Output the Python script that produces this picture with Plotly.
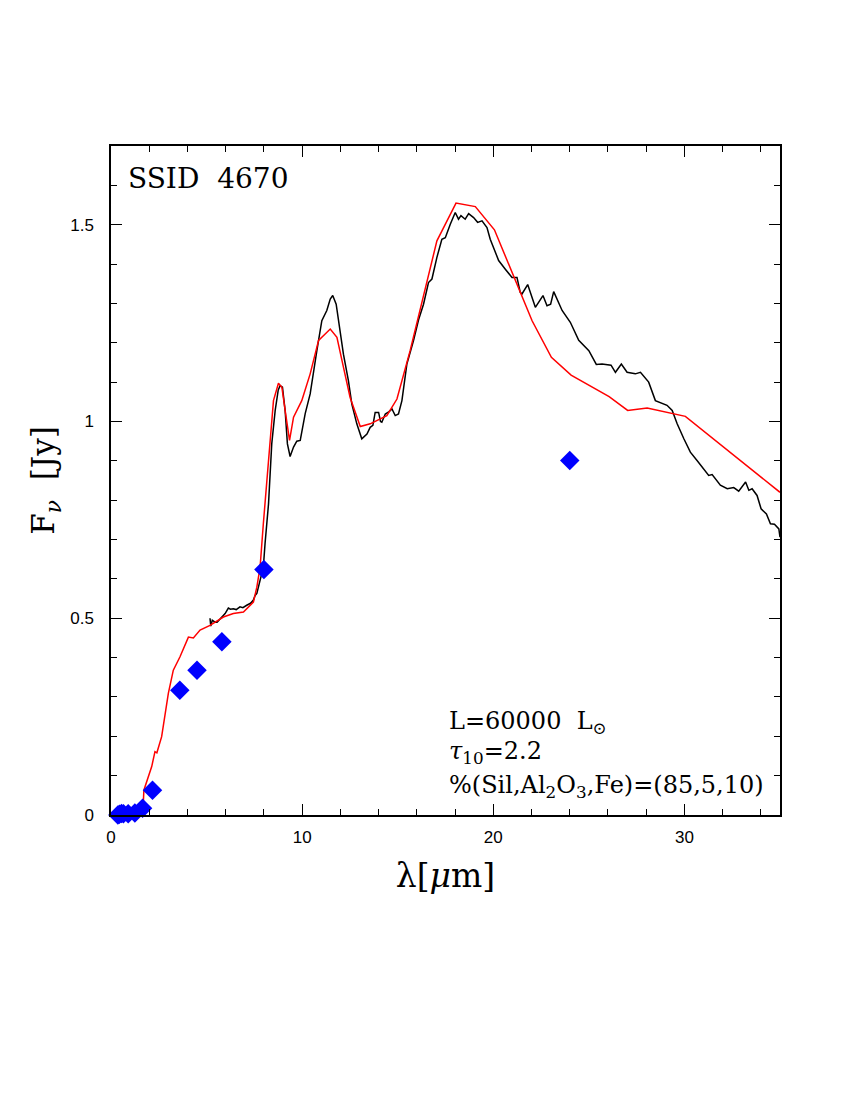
import plotly.graph_objects as go

# Observed spectrum (black)
obs_wl = [5.18, 5.22, 5.30, 5.44, 5.55, 5.71, 5.85, 5.97, 6.14, 6.25, 6.40, 6.55, 6.75, 6.90,
          7.10, 7.30, 7.45, 7.54, 7.63, 7.80, 7.97, 8.06, 8.24, 8.41, 8.59, 8.75, 8.85, 8.97,
          9.11, 9.23, 9.37, 9.55, 9.72, 9.90, 10.16, 10.42, 10.60, 10.77, 11.03, 11.29, 11.47,
          11.60, 11.78, 11.95, 12.16, 12.42, 12.60, 12.86, 13.12, 13.39, 13.56, 13.70, 13.82,
          14.00, 14.10, 14.17, 14.35, 14.55, 14.70, 14.87, 15.04, 15.22, 15.48, 15.83, 16.10,
          16.35, 16.61, 16.79, 17.05, 17.31, 17.49, 17.75, 18.01, 18.18, 18.31, 18.53, 18.71,
          18.97, 19.18, 19.41, 19.67, 19.84, 20.02, 20.28, 20.63, 20.98, 21.24, 21.41, 21.50,
          21.80, 22.20, 22.60, 22.81, 23.00, 23.16, 23.60, 24.03, 24.47, 25.00, 25.39, 25.69,
          26.16, 26.39, 26.70, 27.00, 27.43, 27.70, 28.13, 28.48, 28.66, 29.09, 29.36, 29.62,
          29.97, 30.31, 30.66, 31.01, 31.27, 31.45, 31.88, 32.24, 32.58, 32.84, 33.20, 33.37,
          33.54, 33.80, 34.01, 34.29, 34.50, 34.71, 34.94, 35.00]
obs_flux = [0.500, 0.480, 0.495, 0.490, 0.490, 0.499, 0.505, 0.512, 0.526, 0.523, 0.524, 0.522,
            0.529, 0.527, 0.533, 0.538, 0.546, 0.558, 0.563, 0.596, 0.630, 0.690, 0.790, 0.943,
            1.028, 1.080, 1.091, 1.087, 1.028, 0.943, 0.911, 0.935, 0.950, 0.952, 1.020, 1.070,
            1.130, 1.180, 1.256, 1.282, 1.311, 1.320, 1.298, 1.239, 1.171, 1.104, 1.044, 0.994,
            0.956, 0.968, 0.985, 0.990, 1.023, 1.023, 1.000, 0.998, 1.019, 1.025, 1.032, 1.015,
            1.019, 1.053, 1.146, 1.206, 1.260, 1.298, 1.353, 1.362, 1.417, 1.463, 1.467, 1.501,
            1.531, 1.514, 1.523, 1.514, 1.528, 1.518, 1.506, 1.510, 1.493, 1.463, 1.442, 1.409,
            1.387, 1.366, 1.366, 1.328, 1.324, 1.348, 1.290, 1.320, 1.294, 1.298, 1.330, 1.282,
            1.252, 1.206, 1.180, 1.145, 1.146, 1.143, 1.125, 1.146, 1.125, 1.121, 1.125, 1.100,
            1.053, 1.049, 1.041, 1.028, 0.994, 0.956, 0.922, 0.901, 0.879, 0.863, 0.865, 0.838,
            0.829, 0.832, 0.823, 0.846, 0.825, 0.829, 0.812, 0.778, 0.765, 0.740, 0.739, 0.727,
            0.706]

# Model SED (red)
model_wl = [0.30, 1.00, 1.50, 1.69, 1.72, 2.13, 2.30, 2.40, 2.65, 3.00, 3.26, 3.61, 4.05, 4.31,
            4.66, 5.18, 5.88, 6.40, 6.93, 7.45, 7.63, 7.80, 7.97, 8.32, 8.50, 8.76, 8.94, 9.11,
            9.34, 9.55, 9.98, 10.42, 10.86, 11.47, 11.82, 12.16, 12.51, 13.04, 13.56, 14.43,
            14.96, 15.65, 17.05, 18.05, 19.06, 20.06, 22.03, 23.04, 24.07, 26.06, 27.03, 28.05,
            30.05, 35.00]
model_flux = [0.000, 0.003, 0.010, 0.030, 0.063, 0.123, 0.161, 0.158, 0.199, 0.309, 0.368, 0.402,
              0.452, 0.450, 0.470, 0.482, 0.503, 0.512, 0.516, 0.541, 0.579, 0.630, 0.740, 0.943,
              1.053, 1.097, 1.087, 1.028, 0.952, 1.011, 1.053, 1.121, 1.206, 1.235, 1.214, 1.138,
              1.061, 0.987, 0.994, 1.015, 1.057, 1.180, 1.459, 1.555, 1.546, 1.487, 1.256, 1.163,
              1.118, 1.063, 1.028, 1.034, 1.013, 0.820]

# Photometry (blue diamonds)
phot_wl = [0.36, 0.44, 0.55, 0.65, 0.90, 1.25, 1.65, 2.17, 3.60, 4.50, 5.80, 8.00, 24.0]
phot_flux = [0.000, 0.002, 0.004, 0.003, 0.003, 0.005, 0.017, 0.063, 0.317, 0.368, 0.440, 0.624, 0.901]

x_range = [0, 35]
y_range = [0, 1.7]

serif = "DejaVu Serif"
sans = "Liberation Sans"

fig = go.Figure()
fig.add_trace(go.Scatter(x=obs_wl, y=obs_flux, mode="lines",
                         line=dict(color="black", width=1.5), showlegend=False))
fig.add_trace(go.Scatter(x=model_wl, y=model_flux, mode="lines",
                         line=dict(color="#ff0000", width=1.5), showlegend=False))
fig.add_trace(go.Scatter(x=phot_wl, y=phot_flux, mode="markers", cliponaxis=False,
                         marker=dict(symbol="diamond", size=15, color="#0000ff",
                                     line=dict(width=0)), showlegend=False))
# helper trace for mirrored tick axes
fig.add_trace(go.Scatter(x=[], y=[], xaxis="x2", yaxis="y2", showlegend=False, hoverinfo="skip"))

tick_common = dict(ticks="inside", ticklen=11, tickwidth=1.3, tickcolor="black",
                   showgrid=False, zeroline=False)

fig.update_layout(
    width=850, height=1100,
    margin=dict(l=103, r=78, t=138, b=293),
    paper_bgcolor="white", plot_bgcolor="white",
    xaxis=dict(range=x_range, dtick=10, tick0=0, showline=True, linecolor="black", linewidth=1.5,
               mirror=True, ticklabelstandoff=6,
               tickfont=dict(family=sans, size=17, color="black"),
               minor=dict(dtick=2, ticks="inside", ticklen=6, tickwidth=1.2, tickcolor="black",
                          showgrid=False),
               title=dict(text="λ[<i>μ</i>m]", font=dict(family=serif, size=33, color="black"),
                          standoff=18),
               **tick_common),
    yaxis=dict(range=y_range, dtick=0.5, tick0=0, showline=True, linecolor="black", linewidth=1.5,
               mirror=True, ticklabelstandoff=12,
               tickfont=dict(family=sans, size=17, color="black"),
               minor=dict(dtick=0.1, ticks="inside", ticklen=6, tickwidth=1.2, tickcolor="black",
                          showgrid=False),
               title=dict(text="F<sub><i>ν</i></sub>  [Jy]",
                          font=dict(family=serif, size=31, color="black"), standoff=6),
               **tick_common),
    xaxis2=dict(range=x_range, dtick=10, tick0=0, overlaying="x", side="top", anchor="y",
                showticklabels=False, showline=False,
                minor=dict(dtick=2, ticks="inside", ticklen=6, tickwidth=1.2, tickcolor="black",
                           showgrid=False),
                **tick_common),
    yaxis2=dict(range=y_range, dtick=0.5, tick0=0, overlaying="y", side="right", anchor="x",
                showticklabels=False, showline=False,
                minor=dict(dtick=0.1, ticks="inside", ticklen=6, tickwidth=1.2, tickcolor="black",
                           showgrid=False),
                **tick_common),
)

annots = [
    dict(text="SSID  4670", x=0.022, y=0.952, size=28),
    dict(text="L=60000  L<sub>⊙</sub>", x=0.502, y=0.139, size=24),
    dict(text="<i>τ</i><sub>10</sub>=2.2", x=0.502, y=0.094, size=24),
    dict(text="%(Sil,Al<sub>2</sub>O<sub>3</sub>,Fe)=(85,5,10)", x=0.502, y=0.043, size=24),
]
for a in annots:
    fig.add_annotation(text=a["text"], x=a["x"], y=a["y"], xref="paper", yref="paper",
                       xanchor="left", yanchor="middle", showarrow=False,
                       font=dict(family=serif, size=a["size"], color="black"))

fig.write_html("out.html")
